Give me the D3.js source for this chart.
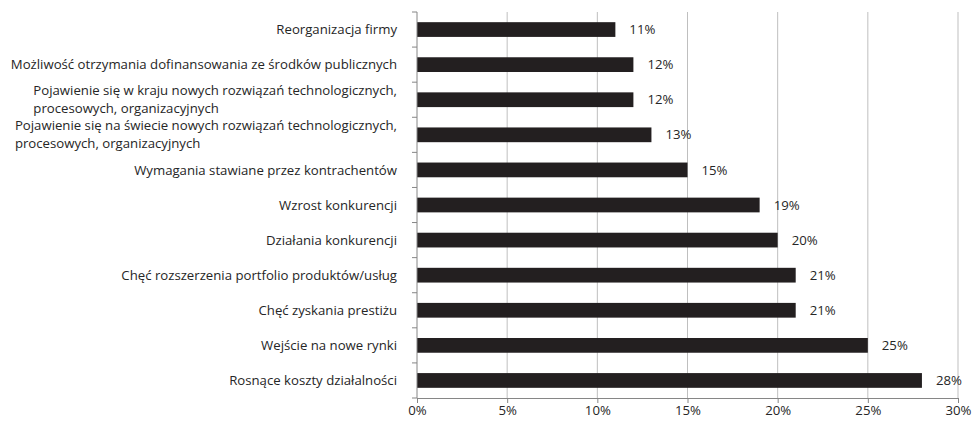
<!DOCTYPE html>
<html>
<head>
<meta charset="utf-8">
<script src="https://cdn.jsdelivr.net/npm/d3@7"></script>
<style>
  body { margin: 0; background: #fff; }
  #chart { width: 977px; height: 424px; }
  text { font-family: "Open Sans", sans-serif; fill: #262626; }
</style>
</head>
<body>
<div id="chart"></div>
<script>
// categories top to bottom, each entry is a list of lines
const categories = [
  ["Reorganizacja firmy"],
  ["Możliwość otrzymania dofinansowania ze środków publicznych"],
  ["Pojawienie się w kraju nowych rozwiązań technologicznych,", "procesowych, organizacyjnych"],
  ["Pojawienie się na świecie nowych rozwiązań technologicznych,", "procesowych, organizacyjnych"],
  ["Wymagania stawiane przez kontrachentów"],
  ["Wzrost konkurencji"],
  ["Działania konkurencji"],
  ["Chęć rozszerzenia portfolio produktów/usług"],
  ["Chęć zyskania prestiżu"],
  ["Wejście na nowe rynki"],
  ["Rosnące koszty działalności"]
];
const values = [11, 12, 12, 13, 15, 19, 20, 21, 21, 25, 28];
const xTicks = [0, 5, 10, 15, 20, 25, 30];

const w = 977, h = 424;
const margin = { left: 417, right: 19, top: 12, bottom: 26 };
const fs = 13.2;

const svg = d3.select("#chart").append("svg")
  .attr("width", w).attr("height", h);

const xScale = d3.scaleLinear()
  .domain([0, 30])
  .range([margin.left, w - margin.right]);

const yScale = d3.scaleBand()
  .domain(d3.range(categories.length))
  .range([margin.top, h - margin.bottom]);

// gridlines
svg.append("g")
  .selectAll("line")
  .data(xTicks.slice(1))
  .join("line")
  .attr("x1", d => xScale(d)).attr("x2", d => xScale(d))
  .attr("y1", margin.top).attr("y2", h - margin.bottom)
  .attr("stroke", "#bfbfbf").attr("stroke-width", 1);

// bars
const barH = yScale.bandwidth() * 0.42;
svg.append("g")
  .selectAll("rect")
  .data(values)
  .join("rect")
  .attr("x", xScale(0))
  .attr("y", (d, i) => yScale(i) + (yScale.bandwidth() - barH) / 2)
  .attr("width", d => xScale(d) - xScale(0))
  .attr("height", barH)
  .attr("fill", "#231f20");

// value labels
svg.append("g")
  .selectAll("text")
  .data(values)
  .join("text")
  .attr("x", d => xScale(d) + 14)
  .attr("y", (d, i) => yScale(i) + yScale.bandwidth() / 2)
  .attr("dy", "0.35em")
  .attr("font-size", fs)
  .text(d => `${d}%`);

// x axis
const xAxis = svg.append("g")
  .attr("transform", `translate(0, ${h - margin.bottom})`)
  .call(d3.axisBottom(xScale).tickValues(xTicks).tickSize(5).tickFormat(d => `${d}%`));
xAxis.selectAll("line, path").attr("stroke", "#868686");
xAxis.selectAll("text").attr("font-size", fs).attr("font-family", "Open Sans").attr("fill", "#262626").attr("y", 6).attr("dy", "0.85em");

// y axis: line with ticks at band boundaries
const yG = svg.append("g");
yG.append("line")
  .attr("x1", xScale(0)).attr("x2", xScale(0))
  .attr("y1", margin.top).attr("y2", h - margin.bottom)
  .attr("stroke", "#868686");
yG.selectAll("line.tk")
  .data(d3.range(categories.length + 1))
  .join("line").attr("class", "tk")
  .attr("x1", xScale(0) - 5).attr("x2", xScale(0))
  .attr("y1", i => margin.top + i * yScale.step())
  .attr("y2", i => margin.top + i * yScale.step())
  .attr("stroke", "#868686");

// category labels
const lineH = 18;
const labelRight = xScale(0) - 20;
categories.forEach((lines, i) => {
  const cy = yScale(i) + yScale.bandwidth() / 2;
  const t = svg.append("text").attr("font-size", fs);
  lines.forEach((s, k) => {
    t.append("tspan")
      .attr("y", cy + (k - (lines.length - 1) / 2) * lineH)
      .attr("dy", "0.35em")
      .text(s);
  });
  if (lines.length === 1) {
    t.attr("text-anchor", "end").selectAll("tspan").attr("x", labelRight);
  } else {
    const widest = d3.max(t.selectAll("tspan").nodes(), n => n.getComputedTextLength());
    t.selectAll("tspan").attr("x", labelRight - widest);
  }
});
</script>
</body>
</html>
